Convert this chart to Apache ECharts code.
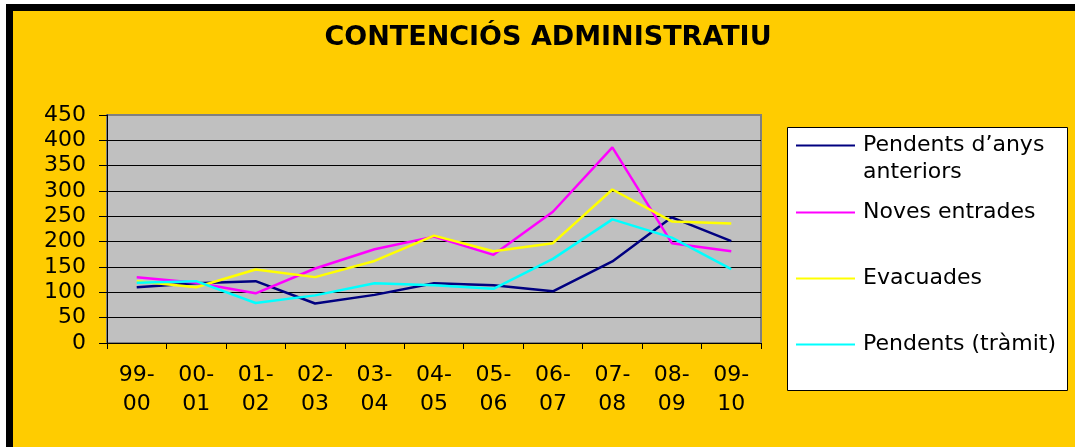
<!DOCTYPE html>
<html>
<head>
<meta charset="utf-8">
<script src="https://cdn.jsdelivr.net/npm/echarts@6/dist/echarts.min.js"></script>
<style>
  html, body { margin: 0; padding: 0; background: #fff; }
  #frame {
    position: absolute; left: 6px; top: 4px; right: 0; bottom: 0;
    border-top: 7px solid #000; border-left: 7px solid #000;
    background: #ffcc00;
  }
  #chart { position: absolute; left: 0; top: 0; width: 1075px; height: 447px; }
</style>
</head>
<body>
<div id="frame"></div>
<div id="chart"></div>
<script>
// curs judicial
var categories = ['99-\n00', '00-\n01', '01-\n02', '02-\n03', '03-\n04', '04-\n05',
	'05-\n06', '06-\n07', '07-\n08', '08-\n09', '09-\n10'];

var pendentsAnteriors = [110, 118, 122, 78, 95, 118, 114, 102, 161, 248, 201];
var novesEntrades = [130, 119, 98, 147, 185, 210, 174, 259, 386, 197, 181];
var evacuades = [122, 110, 145, 130, 162, 212, 181, 197, 303, 240, 236];
var pendentsTramit = [119, 122, 79, 94, 118, 114, 107, 166, 244, 208, 146];

var seriesNames = ['Pendents d\u2019anys\nanteriors', 'Noves entrades', 'Evacuades', 'Pendents (tr\u00e0mit)'];
var colors = ['#000080', '#ff00ff', '#ffff00', '#00ffff'];

var FONT = 'DejaVu Sans';

function lineSeries(name, data) {
	return {
		name: name,
		type: 'line',
		data: data,
		symbol: 'none',
		lineStyle: { width: 2.5 },
		animation: false
	};
}

var chart = echarts.init(document.getElementById('chart'));

chart.setOption({
	color: colors,
	backgroundColor: 'transparent',
	title: {
		text: 'CONTENCI\u00d3S ADMINISTRATIU',
		left: 548,
		top: 24,
		padding: 0,
		textAlign: 'center',
		textStyle: { fontFamily: FONT, fontWeight: 'bold', fontSize: 27, color: '#000' }
	},
	graphic: [{
		type: 'rect',
		shape: { x: 787.5, y: 127.5, width: 280, height: 263 },
		style: { fill: '#fff', stroke: '#000', lineWidth: 1 },
		z: 0
	}],
	legend: {
		orient: 'vertical',
		left: 796,
		top: 105,
		padding: 0,
		itemGap: -13,
		itemWidth: 59,
		itemHeight: 2,
		icon: 'rect',
		// first item: empty leading line so the icon sits beside the first text line
		formatter: function (name) {
			return name === seriesNames[0] ? '\n' + name : name;
		},
		textStyle: { fontFamily: FONT, fontSize: 22, color: '#000', lineHeight: 27, padding: [0, 0, 0, 3] },
		data: [
			{ name: seriesNames[0] },
			{ name: seriesNames[1], textStyle: { padding: [26, 0, 26, 3] } },
			{ name: seriesNames[2], textStyle: { padding: [26, 0, 26, 3] } },
			{ name: seriesNames[3], textStyle: { padding: [26, 0, 26, 3] } }
		]
	},
	grid: {
		left: 107, right: 314, top: 115, bottom: 104,
		show: true,
		backgroundColor: '#c0c0c0',
		borderColor: '#808080',
		borderWidth: 2
	},
	xAxis: {
		type: 'category',
		data: categories,
		boundaryGap: true,
		axisLine: { lineStyle: { color: '#000', width: 1 } },
		axisTick: { show: true, length: 6, alignWithLabel: false, lineStyle: { color: '#000' } },
		axisLabel: { fontFamily: FONT, fontSize: 22, color: '#000', lineHeight: 29, margin: 18, interval: 0 }
	},
	yAxis: {
		type: 'value',
		min: 0,
		max: 450,
		interval: 50,
		axisLine: { show: true, lineStyle: { color: '#000', width: 1 } },
		axisTick: { show: true, length: 8, lineStyle: { color: '#000' } },
		axisLabel: { fontFamily: FONT, fontSize: 22, color: '#000', margin: 21 },
		splitLine: { show: true, showMinLine: false, showMaxLine: false, lineStyle: { color: '#000', width: 1 } }
	},
	series: [
		lineSeries(seriesNames[0], pendentsAnteriors),
		lineSeries(seriesNames[1], novesEntrades),
		lineSeries(seriesNames[2], evacuades),
		lineSeries(seriesNames[3], pendentsTramit)
	]
});
</script>
</body>
</html>
